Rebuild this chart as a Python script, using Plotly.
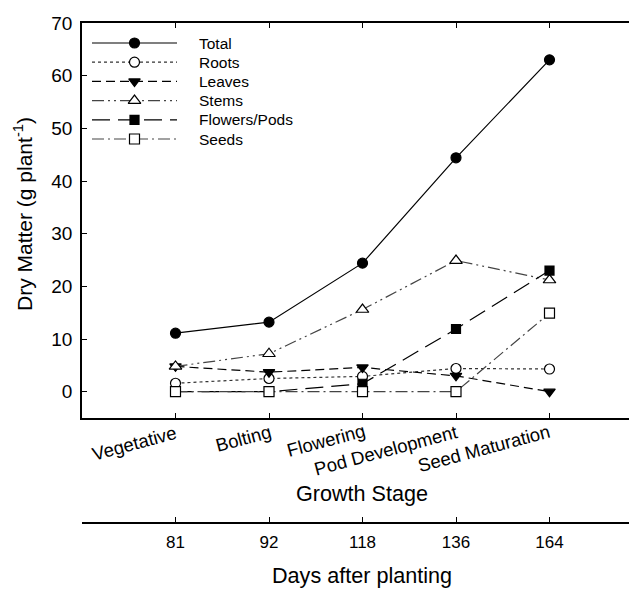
import plotly.graph_objects as go

stages = ["Vegetative", "Bolting", "Flowering", "Pod Development", "Seed Maturation"]
days = ["81", "92", "118", "136", "164"]
total = [11.1, 13.2, 24.4, 44.4, 63.0]
roots = [1.6, 2.5, 2.9, 4.4, 4.3]
leaves = [4.8, 3.7, 4.6, 3.0, 0.0]
stems = [4.8, 7.2, 15.6, 24.9, 21.2]
flowers = [0.0, 0.0, 1.5, 11.9, 23.0]
seeds = [0.0, 0.0, 0.0, 0.0, 14.9]

pos = list(range(1, len(stages) + 1))

FONT = "Liberation Sans, Arial, sans-serif"
OFF = 8  # page body margin: figure origin sits 8px into the window
W, H = 637 - OFF, 590 - OFF


def sx(px):
    return px - OFF


def sy(py):
    return py - OFF


PLOT_LEFT, PLOT_TOP, MAIN_BOT, DAYS_LINE = sx(82), sy(23), sy(418), sy(522)
ML, MR, MT, MB = PLOT_LEFT, 0, PLOT_TOP, H - DAYS_LINE
PLOT_H = H - MT - MB
PLOT_W = W - ML - MR
MAIN_BOTTOM = (DAYS_LINE - MAIN_BOT) / PLOT_H
STEP = 93.5


def px_x(px):
    return (sx(px) - ML) / PLOT_W


def px_y(py):
    return (DAYS_LINE - sy(py)) / PLOT_H


fig = go.Figure()

series = [
    ("Total", total, "solid", "circle", "black", "black", 10),
    ("Roots", roots, "dot", "circle", "white", "#333", 10),
    ("Leaves", leaves, "9px,5px", "triangle-down", "black", "black", 10),
    ("Stems", stems, "12px,4px,2px,4px,2px,4px", "triangle-up", "white", "#444", 11),
    ("Flowers/Pods", flowers, "18px,8px", "square", "black", "black", 9),
    ("Seeds", seeds, "12px,4px,2px,4px", "square", "white", "#444", 10),
]
for name, vals, dash, sym, fill, lc, ms in series:
    fig.add_trace(go.Scatter(
        x=pos, y=vals, name=name, mode="lines+markers", showlegend=False,
        line=dict(color=lc, width=1.2, dash=dash),
        marker=dict(symbol=sym, size=ms, color=fill, line=dict(color="black", width=1.2)),
        xaxis="x", yaxis="y",
    ))

# invisible trace for the days axis
fig.add_trace(go.Scatter(x=pos, y=[0] * len(pos), mode="markers", marker=dict(opacity=0),
                         showlegend=False, hoverinfo="skip", xaxis="x2", yaxis="y2"))

# legend drawn in a pixel-unit overlay axis (legend glyphs only)
LEG_X0, LEG_X1, LEG_TX, LEG_Y0, LEG_DY = 92, 177, 197, 43, 19.2
for i, (name, vals, dash, sym, fill, lc, ms) in enumerate(series):
    yy = LEG_Y0 + i * LEG_DY
    fig.add_trace(go.Scatter(
        x=[LEG_X0, (LEG_X0 + LEG_X1) / 2, LEG_X1], y=[yy] * 3, mode="lines+markers",
        showlegend=False, hoverinfo="skip",
        line=dict(color=lc, width=1.2, dash=dash),
        marker=dict(symbol=sym, size=ms, color=fill, opacity=[0, 1, 0],
                    line=dict(color="black", width=1.2)),
        xaxis="x3", yaxis="y3",
    ))
    fig.add_annotation(x=LEG_TX, y=yy, xref="x3", yref="y3", text=name, showarrow=False,
                       xanchor="left", yanchor="middle", font=dict(size=15.5, family=FONT))

xr = [0, PLOT_W / STEP]
fig.update_layout(
    width=W, height=H,
    margin=dict(l=ML, r=MR, t=MT, b=MB, pad=0),
    paper_bgcolor="white", plot_bgcolor="white",
    font=dict(family=FONT, color="black"),
    showlegend=False,
    xaxis=dict(domain=[0, 1], range=xr, tickvals=pos, showticklabels=False,
               ticks="inside", ticklen=5, tickcolor="black", showline=True,
               linecolor="black", linewidth=1.5, mirror="ticks", showgrid=False,
               zeroline=False, anchor="y", automargin=False),
    yaxis=dict(domain=[MAIN_BOTTOM, 1], range=[-5, 70], tickvals=[0, 10, 20, 30, 40, 50, 60, 70],
               ticks="inside", ticklen=5, tickcolor="black", showline=True,
               linecolor="black", linewidth=1.5, showgrid=False, zeroline=False,
               tickfont=dict(size=19), ticklabelstandoff=4, automargin=False,
               anchor="x"),
    xaxis2=dict(domain=[0, 1], range=xr, tickvals=pos, ticktext=days,
                ticks="inside", ticklen=5, tickcolor="black", showline=True,
                linecolor="black", linewidth=1.5, showgrid=False, zeroline=False,
                tickfont=dict(size=17), ticklabelstandoff=4, anchor="y2", automargin=False),
    yaxis2=dict(domain=[0, 0.001], range=[0, 1], visible=False, anchor="x2"),
    xaxis3=dict(domain=[0, 1], range=[82, 637], visible=False, anchor="y3", overlaying="x"),
    yaxis3=dict(domain=[MAIN_BOTTOM, 1], range=[418, 23], visible=False, anchor="x3", overlaying="y"),
)

# stage labels (rotated, staggered like the original): pixel offsets of label centre from tick
label_shift = [(-42, -25), (-26, -20), (-37, -22.5), (-71, -32), (-66, -30)]
for p, s, (dx, dy) in zip(pos, stages, label_shift):
    fig.add_annotation(x=p, y=MAIN_BOTTOM, xref="x", yref="paper", text=s, showarrow=False,
                       xanchor="center", yanchor="middle",
                       textangle=-15, xshift=dx, yshift=dy, font=dict(size=18.5, family=FONT))

fig.add_annotation(x=px_x(362), y=px_y(493.5), xref="paper", yref="paper",
                   xanchor="center", yanchor="middle",
                   text="Growth Stage", showarrow=False, font=dict(size=21.6, family=FONT))
fig.add_annotation(x=px_x(362), y=px_y(575), xref="paper", yref="paper",
                   xanchor="center", yanchor="middle",
                   text="Days after planting", showarrow=False, font=dict(size=21.6, family=FONT))
fig.add_annotation(x=px_x(23), y=px_y(214), xref="paper", yref="paper",
                   xanchor="center", yanchor="middle",
                   text="Dry Matter (g plant<sup>-1</sup>)", showarrow=False, textangle=-90,
                   font=dict(size=21, family=FONT))

fig.write_html("out.html")
